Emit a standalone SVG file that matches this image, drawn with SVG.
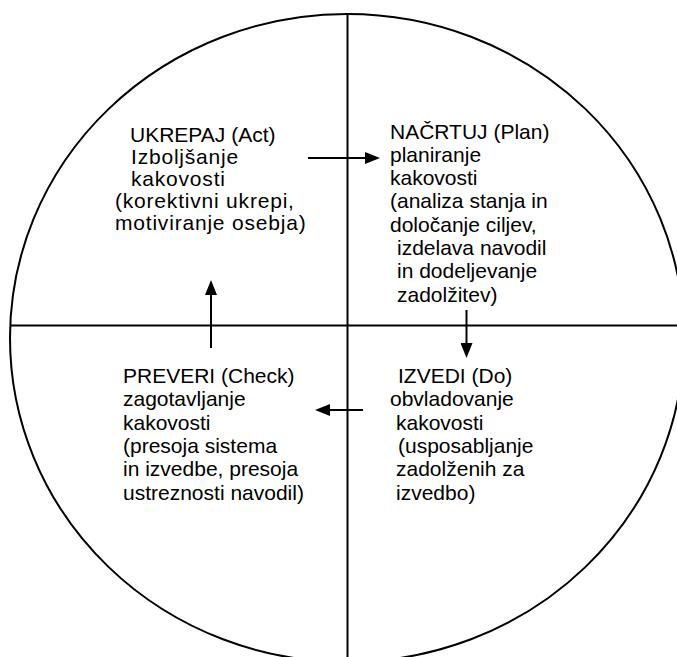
<svg xmlns="http://www.w3.org/2000/svg" width="677" height="657" viewBox="0 0 677 657">
<style>
.frame{fill:none;stroke:#000;stroke-width:2}
.arr{fill:none;stroke:#000;stroke-width:2}
text{font-family:"Liberation Sans",Arial,sans-serif;font-size:21px;fill:#000}
.wide{letter-spacing:0.8px}
</style>
<defs>
<marker id="ah" viewBox="0 0 15 12" refX="4" refY="6" markerWidth="15" markerHeight="12" markerUnits="userSpaceOnUse" orient="auto">
<path d="M0,0 L15,6 L0,12 Z" fill="#000"/>
</marker>
</defs>
<rect width="677" height="657" fill="#fff"/>
<g id="frame">
<ellipse class="frame" cx="347" cy="338" rx="337" ry="324"/>
<line class="frame" x1="347.5" y1="14" x2="347.5" y2="657"/>
<line class="frame" x1="10" y1="325.5" x2="677" y2="325.5"/>
</g>
<g id="act">
<text x="130" y="141.5">UKREPAJ (Act)</text>
<text class="wide" x="131" y="163.5">Izboljšanje</text>
<text class="wide" x="131" y="185.5">kakovosti</text>
<text class="wide" x="115" y="207.5">(korektivni ukrepi,</text>
<text class="wide" x="115" y="229.5">motiviranje osebja)</text>
</g>
<g id="plan">
<text x="390" y="138.5">NAČRTUJ (Plan)</text>
<text x="390" y="161.8">planiranje</text>
<text x="390" y="185.1">kakovosti</text>
<text x="390" y="208.4">(analiza stanja in</text>
<text x="390" y="231.7">določanje ciljev,</text>
<text x="397" y="255">izdelava navodil</text>
<text x="397" y="278.3">in dodeljevanje</text>
<text x="397" y="301.6">zadolžitev)</text>
</g>
<g id="check">
<text x="123" y="383">PREVERI (Check)</text>
<text x="123" y="406.3">zagotavljanje</text>
<text x="123" y="429.6">kakovosti</text>
<text x="123" y="452.9">(presoja sistema</text>
<text x="123" y="476.2">in izvedbe, presoja</text>
<text x="123" y="499.5">ustreznosti navodil)</text>
</g>
<g id="do">
<text x="398" y="383">IZVEDI (Do)</text>
<text x="390" y="406.3">obvladovanje</text>
<text x="396" y="429.6">kakovosti</text>
<text x="398" y="452.9">(usposabljanje</text>
<text x="396" y="476.2">zadolženih za</text>
<text x="396" y="499.5">izvedbo)</text>
</g>
<g id="connectors">
<line class="arr" x1="308" y1="158" x2="369" y2="158" marker-end="url(#ah)"/>
<line class="arr" x1="466.5" y1="310" x2="466.5" y2="347" marker-end="url(#ah)"/>
<line class="arr" x1="363" y1="410" x2="326" y2="410" marker-end="url(#ah)"/>
<line class="arr" x1="211" y1="348" x2="211" y2="291" marker-end="url(#ah)"/>
</g>
</svg>
